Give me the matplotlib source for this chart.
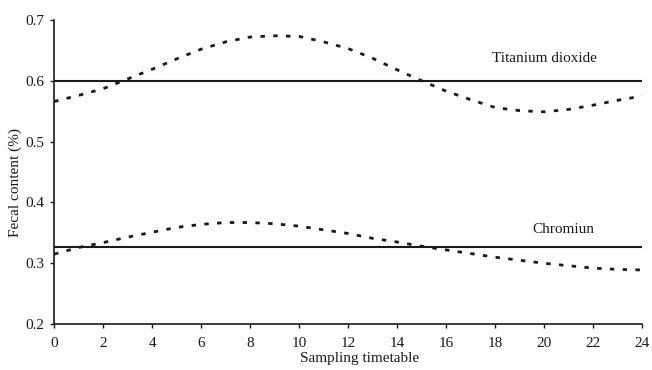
import matplotlib
matplotlib.use("Agg")
import matplotlib.pyplot as plt
import numpy as np

plt.rcParams['font.family'] = ['Liberation Serif', 'DejaVu Serif']

# sampling times
t = np.arange(0, 25, 1)

# titanium dioxide fecal content (%)
tio2 = [0.566, 0.576, 0.587, 0.603, 0.619, 0.636, 0.652, 0.664, 0.672, 0.674,
        0.673, 0.664, 0.653, 0.637, 0.618, 0.600, 0.583, 0.569, 0.556, 0.551,
        0.549, 0.553, 0.560, 0.568, 0.575]
# chromium fecal content (%)
cr = [0.315, 0.326, 0.334, 0.343, 0.351, 0.359, 0.364, 0.367, 0.367, 0.365,
      0.361, 0.355, 0.349, 0.341, 0.335, 0.328, 0.322, 0.316, 0.310, 0.305,
      0.300, 0.296, 0.292, 0.290, 0.289]

tio2_mean = 0.600
cr_mean = 0.326

fig = plt.figure(figsize=(6.52, 3.70), dpi=100)
ax = fig.add_axes([0.083, 0.124, 0.902, 0.822])

col = "#1a1a1a"
ax.plot(t, tio2, color=col, linewidth=2.0, dashes=(1.6, 3))
ax.plot(t, cr, color=col, linewidth=2.0, dashes=(1.6, 3))
ax.axhline(tio2_mean, color=col, linewidth=1.5)
ax.axhline(cr_mean, color=col, linewidth=1.5)

ax.text(20.0, 0.637, "Titanium dioxide", ha="center", va="center", fontsize=11, color=col)
ax.text(20.8, 0.356, "Chromiun", ha="center", va="center", fontsize=11, color=col)

ax.set_xlim(0, 24)
ax.set_ylim(0.2, 0.7)
ax.set_xticks(np.arange(0, 25, 2))
ax.set_yticks([0.2, 0.3, 0.4, 0.5, 0.6, 0.7])
ax.set_yticklabels(["0.2", "0.3", "0.4", "0.5", "0.6", "0.7"])
ax.tick_params(direction="out", length=3, width=1, labelsize=11, colors=col)
ax.tick_params(axis="x", pad=6)
ax.tick_params(axis="y", pad=4)

for s in ["top", "right"]:
    ax.spines[s].set_visible(False)
for s in ["left", "bottom"]:
    ax.spines[s].set_linewidth(1.2)
    ax.spines[s].set_color(col)

ax.set_xlabel("Sampling timetable", fontsize=11, color=col)
ax.set_ylabel("Fecal content (%)", fontsize=11, color=col)
ax.xaxis.set_label_coords(0.52, -0.092)
ax.yaxis.set_label_coords(-0.054, 0.467)

plt.savefig("out.png", dpi=100)
